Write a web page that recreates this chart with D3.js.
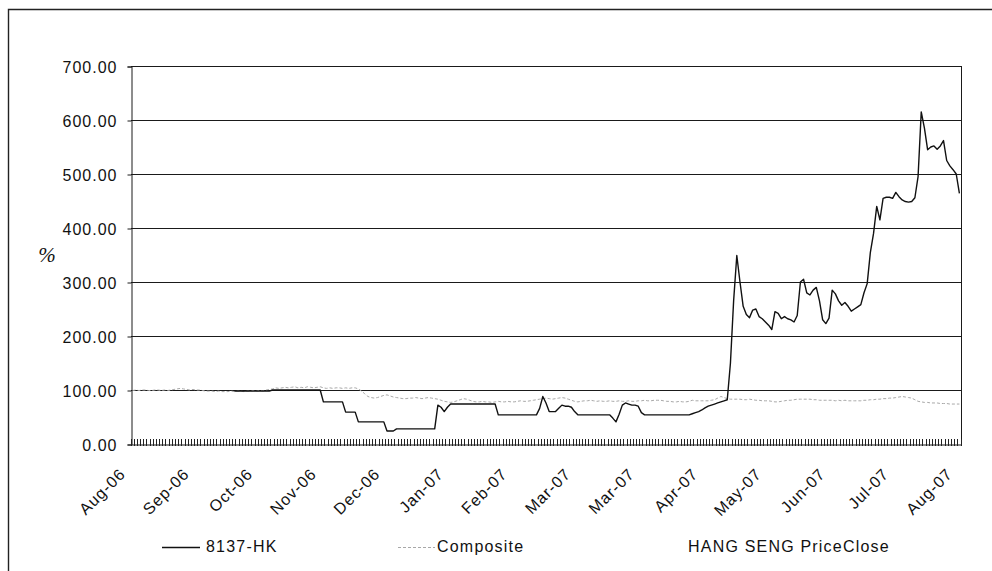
<!DOCTYPE html>
<html>
<head>
<meta charset="utf-8">
<script src="https://cdn.jsdelivr.net/npm/d3@7"></script>
<style>
  html, body { margin: 0; padding: 0; background: #fff; }
  svg { display: block; }
  text { font-family: "Liberation Sans", Arial, sans-serif; fill: #111; }
</style>
</head>
<body>
<svg id="chart" width="992" height="571"></svg>
<script>
// ---- data ----
const categoryCount = 261;          // trading days on the category axis
const labelStep = 20;               // a label every 20 categories
const tickLabels = ["Aug-06","Sep-06","Oct-06","Nov-06","Dec-06","Jan-07","Feb-07","Mar-07","Mar-07","Apr-07","May-07","Jun-07","Jul-07","Aug-07"];
const yTicks = [0, 100, 200, 300, 400, 500, 600, 700];
const seriesNames = ["8137-HK", "Composite", "HANG SENG PriceClose"];

const stock8137 = [
  null,null,null,null,null,null,null,null,null,null,
  null,null,null,null,null,null,null,null,null,null,
  null,null,null,null,null,null,null,null,null,null,
  null,null,98,98,98,98,98,98,98,98,
  98,98,98,98,100,100,100,100,100,100,
  100,100,100,100,100,100,100,100,100,100,
  78,78,78,78,78,78,78,59,59,59,
  59,41,41,41,41,41,41,41,41,41,
  24,24,24,28,28,28,28,28,28,28,
  28,28,28,28,28,28,72,68,60,68,
  74,74,74,74,74,74,74,74,74,74,
  74,74,74,74,74,54,54,54,54,54,
  54,54,54,54,54,54,54,54,66,88,
  76,60,60,60,66,72,70,70,68,60,
  54,54,54,54,54,54,54,54,54,54,
  54,48,41,55,72,76,74,72,72,70,
  58,54,54,54,54,54,54,54,54,54,
  54,54,54,54,54,54,56,58,60,63,
  67,70,72,74,76,78,80,82,150,265,
  349,300,255,240,234,248,250,236,232,226,
  220,212,245,242,232,236,232,230,226,238,
  300,305,280,276,285,290,265,230,223,233,
  285,278,265,257,262,255,246,250,254,258,
  280,297,355,390,440,415,455,457,457,455,
  466,458,452,449,448,449,456,495,615,585,
  545,550,552,546,552,562,525,515,508,500,
  464
];

const composite = [
  99,100,99,100,100,99,99,100,100,99,
  100,99,100,101,102,103,102,101,100,101,
  100,100,99,98,98,98,97,98,97,97,
  97,98,97,98,98,97,98,98,99,98,
  99,98,100,101,102,104,103,104,105,104,
  105,106,104,105,104,106,105,104,105,106,
  104,103,104,103,104,104,103,104,103,104,
  104,102,98,93,88,86,85,86,88,90,
  91,89,87,86,85,84,84,85,85,86,
  85,84,85,86,85,84,83,81,79,78,
  77,78,80,82,84,83,81,79,78,78,
  79,78,78,77,78,79,78,78,79,78,
  78,79,80,79,79,80,81,82,83,84,
  85,84,83,84,85,86,85,83,81,79,
  78,79,80,80,81,80,79,80,79,79,
  80,79,79,80,79,79,80,79,79,80,
  80,81,80,80,81,81,81,80,79,79,
  78,78,79,78,78,79,81,80,80,80,
  80,80,81,82,85,88,86,84,83,83,
  83,83,82,82,83,82,81,81,80,80,
  80,79,78,78,79,80,81,81,82,83,
  83,83,83,83,82,82,81,81,81,81,
  81,80,81,80,81,80,80,80,80,80,
  81,81,82,82,83,83,84,84,85,85,
  86,87,88,87,86,85,82,79,78,77,
  77,76,76,76,75,75,75,74,74,74,
  74
];

// ---- layout ----
const svg = d3.select("#chart");
const plot = { left: 131, right: 961, top: 66, bottom: 444 };

const x = d3.scaleLinear().domain([0, categoryCount]).range([plot.left, plot.right]);
const y = d3.scaleLinear().domain([0, 700]).range([plot.bottom, plot.top]);
const cx = i => x(i + 0.5);

// outer border (top and left visible)
svg.append("path")
  .attr("d", "M8.5,571 L8.5,9.5 L992,9.5")
  .attr("fill", "none").attr("stroke", "#222").attr("stroke-width", 1.4);

// gridlines
svg.append("g").selectAll("line").data(yTicks.filter(v => v > 0)).join("line")
  .attr("x1", plot.left).attr("x2", plot.right)
  .attr("y1", d => Math.round(y(d)) + 0.5).attr("y2", d => Math.round(y(d)) + 0.5)
  .attr("stroke", "#1a1a1a").attr("stroke-width", 1);

// y axis
const yAxis = d3.axisLeft(y).tickValues(yTicks).tickSize(4).tickFormat(d3.format(".2f"));
const gy = svg.append("g").attr("transform", `translate(${plot.left + 0.5},0.5)`).call(yAxis);
gy.select(".domain").attr("stroke", "#1a1a1a");
gy.selectAll(".tick line").attr("stroke", "#1a1a1a");
gy.selectAll(".tick text")
  .attr("x", -14).attr("dy", "0.36em")
  .style("font-family", "'Liberation Sans', Arial, sans-serif")
  .style("font-size", "16px").style("letter-spacing", "1px").attr("fill", "#111");

// right frame
svg.append("line")
  .attr("x1", plot.right + 0.5).attr("x2", plot.right + 0.5)
  .attr("y1", plot.top).attr("y2", plot.bottom)
  .attr("stroke", "#1a1a1a");

// x axis with a tick at every category boundary
const xAxis = d3.axisBottom(x)
  .tickValues(d3.range(0, categoryCount + 1))
  .tickSize(0).tickFormat("");
const gx = svg.append("g").attr("transform", `translate(0,${plot.bottom + 0.5})`).call(xAxis);
gx.select(".domain").attr("stroke", "#1a1a1a");
gx.selectAll(".tick line").remove();
svg.append("g").attr("shape-rendering", "crispEdges")
  .selectAll("line").data(d3.range(0, categoryCount + 1)).join("line")
  .attr("x1", d => x(d)).attr("x2", d => x(d))
  .attr("y1", plot.bottom - 5).attr("y2", plot.bottom + 2)
  .attr("stroke", "#222").attr("stroke-width", 1);

// category labels
svg.append("g").selectAll("text").data(tickLabels).join("text")
  .attr("transform", (d, i) => `translate(${cx(i * labelStep) - 6},475) rotate(-45)`)
  .attr("text-anchor", "end")
  .style("font-size", "16px").style("letter-spacing", "1px")
  .text(d => d);

// y axis title
svg.append("text")
  .attr("x", 47).attr("y", 262)
  .attr("text-anchor", "middle")
  .style("font-family", "'Liberation Serif', 'DejaVu Serif', serif")
  .style("font-style", "italic")
  .style("font-size", "21px")
  .text("%");

// lines
const line = d3.line()
  .defined(d => d != null)
  .x((d, i) => cx(i))
  .y(d => y(d));

svg.append("path").datum(composite)
  .attr("d", line)
  .attr("fill", "none").attr("stroke", "#a8a8a8")
  .attr("stroke-width", 1).attr("stroke-dasharray", "3,2");

svg.append("path").datum(stock8137)
  .attr("d", line)
  .attr("fill", "none").attr("stroke", "#111")
  .attr("stroke-width", 1.4).attr("stroke-linejoin", "round");

// legend
const legend = [
  { name: seriesNames[0], x1: 162, x2: 200, tx: 206, color: "#111", dash: null, w: 1.4 },
  { name: seriesNames[1], x1: 398, x2: 435, tx: 437, color: "#a8a8a8", dash: "3,2", w: 1 },
  { name: seriesNames[2], x1: 650, x2: 686, tx: 688, color: "#ffffff", dash: null, w: 1 }
];
const lg = svg.append("g");
lg.selectAll("line").data(legend).join("line")
  .attr("x1", d => d.x1).attr("x2", d => d.x2)
  .attr("y1", 547.5).attr("y2", 547.5)
  .attr("stroke", d => d.color).attr("stroke-width", d => d.w)
  .attr("stroke-dasharray", d => d.dash);
lg.selectAll("text").data(legend).join("text")
  .attr("x", d => d.tx).attr("y", 552)
  .style("font-size", "16px").style("letter-spacing", "1.2px")
  .text(d => d.name);
</script>
</body>
</html>
